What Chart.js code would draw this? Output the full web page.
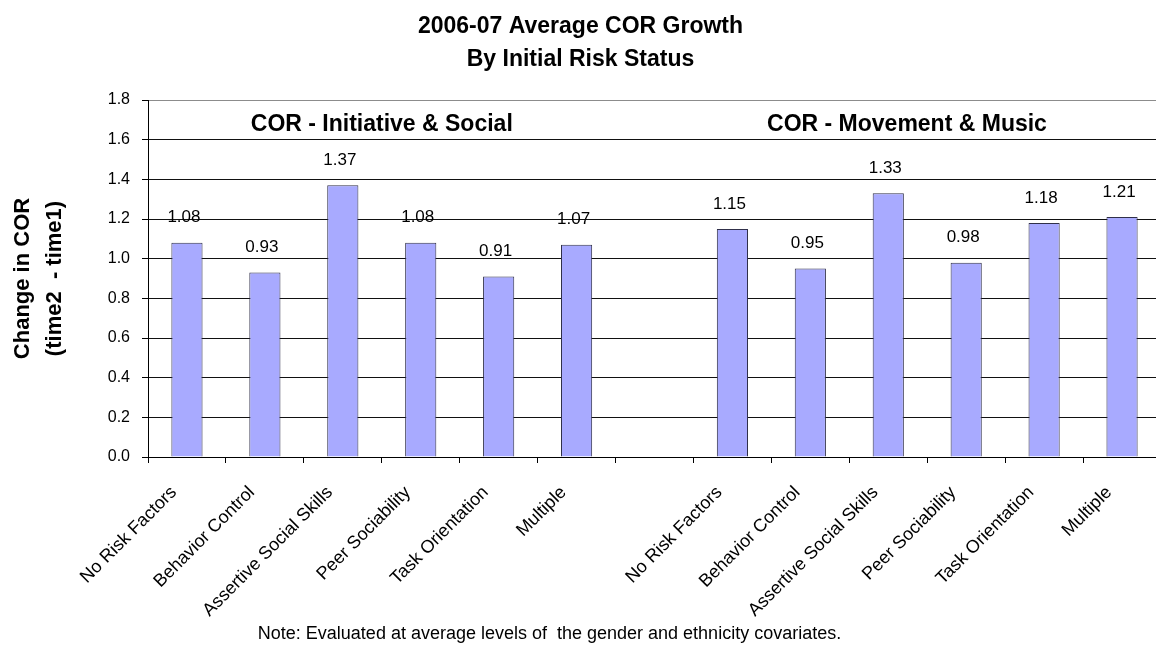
<!DOCTYPE html>
<html>
<head>
<meta charset="utf-8">
<title>2006-07 Average COR Growth</title>
<script src="https://cdn.jsdelivr.net/npm/chart.js@4.4.1/dist/chart.umd.min.js"></script>
<style>
  html, body { margin: 0; padding: 0; background: #fff; overflow: hidden; }
  #wrap { position: relative; width: 1156px; height: 648px; overflow: hidden; }
  #cor-chart { position: absolute; left: 0; top: 0; }
  #note {
    position: absolute; left: 0; width: 1099px; top: 622px;
    text-align: center; font: 18px/22px "Liberation Sans", Arial, sans-serif; color: #000;
  }
</style>
</head>
<body>
<div id="wrap">
  <canvas id="cor-chart" width="1164" height="648"></canvas>
  <div id="note">Note: Evaluated at average levels of&nbsp; the gender and ethnicity covariates.</div>
</div>
<script>
// risk groups, repeated for each COR domain with a blank slot between them
const riskGroups = ['No Risk Factors', 'Behavior Control', 'Assertive Social Skills',
  'Peer Sociability', 'Task Orientation', 'Multiple'];
const categories = [...riskGroups, '', ...riskGroups];

const initiativeSocial = [1.08, 0.93, 1.37, 1.08, 0.91, 1.07];
const movementMusic = [1.15, 0.95, 1.33, 0.98, 1.18, 1.21];
const growth = [...initiativeSocial, null, ...movementMusic];

const yTicks = [0, 0.2, 0.4, 0.6, 0.8, 1.0, 1.2, 1.4, 1.6, 1.8];

// domain headings: text, category position of its centre, height on the value axis
const domainLabels = [
  { text: 'COR - Initiative & Social', x: 2.5, y: 1.677 },
  { text: 'COR - Movement & Music', x: 9.24, y: 1.677 },
];

const FONT = '"Liberation Sans", Arial, sans-serif';

// value labels above each bar and the two domain headings
const annotate = {
  id: 'annotate',
  afterDatasetsDraw(chart) {
    const { ctx, scales: { x, y } } = chart;
    const meta = chart.getDatasetMeta(0);
    ctx.save();
    ctx.fillStyle = '#000';
    ctx.textAlign = 'center';
    ctx.textBaseline = 'middle';
    ctx.font = '17px ' + FONT;
    meta.data.forEach((bar, i) => {
      const v = growth[i];
      if (v == null) return;
      ctx.fillText(v.toFixed(2), bar.x - 3, bar.y - 25);
    });
    ctx.font = 'bold 23px ' + FONT;
    domainLabels.forEach((d) => {
      ctx.fillText(d.text, x.getPixelForValue(d.x), y.getPixelForValue(d.y));
    });
    ctx.restore();
  }
};

new Chart(document.getElementById('cor-chart'), {
  type: 'bar',
  data: {
    labels: categories,
    datasets: [{
      data: growth,
      backgroundColor: '#a8aaff',
      borderColor: '#30304a',
      borderWidth: 1,
      barPercentage: 0.40,
      categoryPercentage: 1.0,
    }]
  },
  options: {
    responsive: false,
    devicePixelRatio: 1,
    animation: false,
    layout: { padding: { top: 0, right: 3, left: 0, bottom: 0 } },
    plugins: {
      legend: { display: false },
      tooltip: { enabled: false },
      title: {
        display: true,
        text: ['2006-07 Average COR Growth', 'By Initial Risk Status'],
        color: '#000',
        font: { family: FONT, size: 23, weight: 'bold', lineHeight: 1.435 },
        padding: { top: 10, bottom: 24 }
      }
    },
    scales: {
      x: {
        offset: true,
        afterFit: (s) => { s.height = 191; },
        grid: {
          offset: true,
          drawOnChartArea: false,
          drawTicks: true,
          tickLength: 6,
          color: '#000'
        },
        border: { color: '#000', width: 1 },
        ticks: {
          color: '#000',
          font: { family: FONT, size: 18 },
          minRotation: 45,
          maxRotation: 45,
          autoSkip: false,
          padding: 19,
          labelOffset: -13
        }
      },
      y: {
        min: 0,
        max: 1.8,
        afterFit: (s) => { s.width = 148; },
        afterBuildTicks: (scale) => { scale.ticks = yTicks.map((v) => ({ value: v })); },
        grid: {
          color: (c) => (c.tick && c.tick.value === 1.8 ? '#8c8c8c' : '#111'),
          tickLength: 6,
          tickColor: '#000'
        },
        border: { color: '#000', width: 1 },
        ticks: {
          color: '#000',
          font: { family: FONT, size: 16 },
          padding: 12,
          callback: (v) => Number(v).toFixed(1)
        },
        title: {
          display: true,
          text: ['Change in COR', '(time2  - time1)'],
          color: '#000',
          font: { family: FONT, size: 22, weight: 'bold', lineHeight: 1.455 },
          padding: { top: 7, bottom: 0 }
        }
      }
    }
  },
  plugins: [annotate]
});
</script>
</body>
</html>
